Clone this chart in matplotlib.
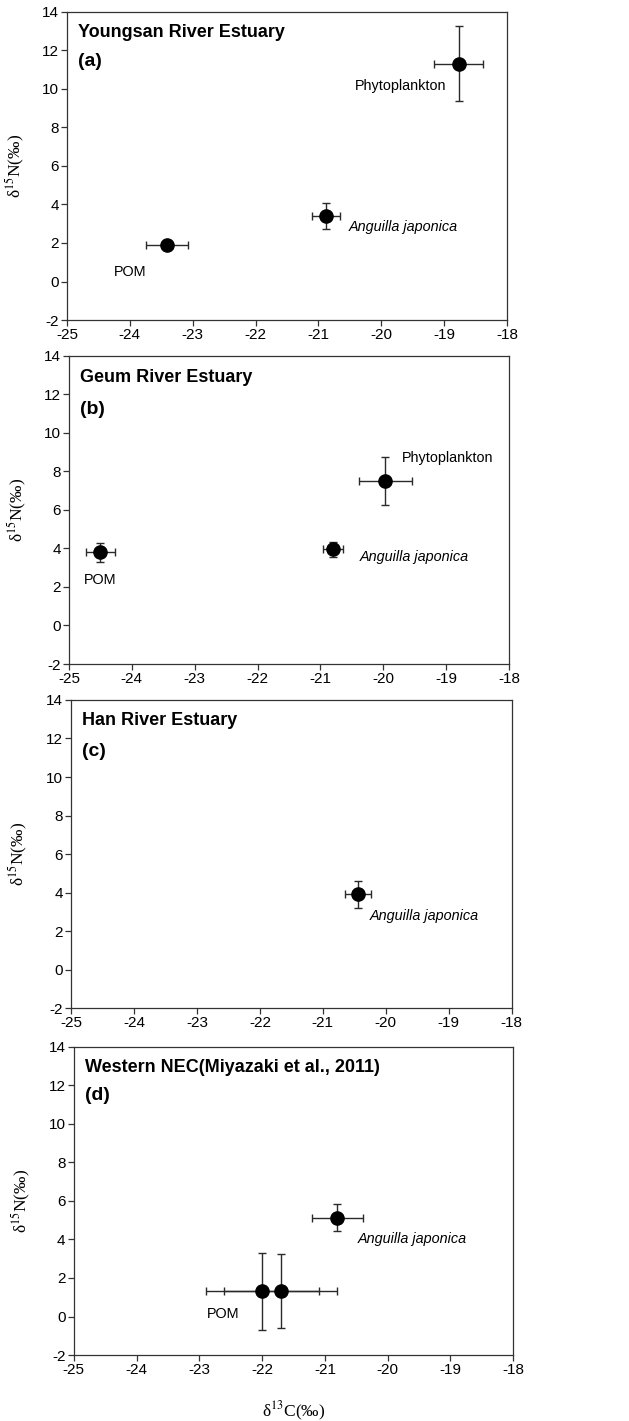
import matplotlib
matplotlib.use("Agg")
import matplotlib.pyplot as plt

plt.rcParams['font.family'] = ['Liberation Sans', 'DejaVu Sans']
plt.rcParams['mathtext.fontset'] = 'stix'
plt.rcParams['axes.unicode_minus'] = False

# panel titles
titles = ['Youngsan River Estuary', 'Geum River Estuary', 'Han River Estuary',
          'Western NEC(Miyazaki et al., 2011)']
letters = ['(a)', '(b)', '(c)', '(d)']

# (a) Youngsan
a_names = ['Phytoplankton', 'Anguilla japonica', 'POM']
a_x = [-18.77, -20.88, -23.41]
a_y = [11.32, 3.40, 1.92]
a_xerr = [0.39, 0.22, 0.33]
a_yerr = [1.93, 0.68, 0.2]

# (b) Geum
b_names = ['POM', 'Anguilla japonica', 'Phytoplankton']
b_x = [-24.50, -20.80, -19.97]
b_y = [3.79, 3.95, 7.50]
b_xerr = [0.23, 0.16, 0.42]
b_yerr = [0.50, 0.40, 1.23]

# (c) Han
c_names = ['Anguilla japonica']
c_x = [-20.44]
c_y = [3.90]
c_xerr = [0.21]
c_yerr = [0.72]

# (d) Western NEC
d_names = ['Anguilla japonica', 'POM', 'POM']
d_x = [-20.80, -22.0, -21.70]
d_y = [5.12, 1.32, 1.32]
d_xerr = [0.40, 0.90, 0.90]
d_yerr = [0.70, 2.0, 1.9]

# label anchors (text, x, y, italic)
a_labels = [('Phytoplankton', -20.42, 10.15, False),
            ('Anguilla japonica', -20.52, 2.85, True),
            ('POM', -24.25, 0.5, False)]
b_labels = [('Phytoplankton', -19.7, 8.67, False),
            ('Anguilla japonica', -20.38, 3.57, True),
            ('POM', -24.76, 2.36, False)]
c_labels = [('Anguilla japonica', -20.25, 2.8, True)]
d_labels = [('Anguilla japonica', -20.48, 4.0, True),
            ('POM', -22.88, 0.12, False)]

xs = [a_x, b_x, c_x, d_x]
ys = [a_y, b_y, c_y, d_y]
xerrs = [a_xerr, b_xerr, c_xerr, d_xerr]
yerrs = [a_yerr, b_yerr, c_yerr, d_yerr]
labels = [a_labels, b_labels, c_labels, d_labels]

rects = [[0.1065, 0.7748, 0.6995, 0.2168],
         [0.1097, 0.5327, 0.6995, 0.2170],
         [0.1129, 0.2906, 0.7006, 0.2168],
         [0.1172, 0.0464, 0.6988, 0.2170]]
title_y = [0.934, 0.93, 0.933, 0.933]
letter_y = [0.839, 0.824, 0.832, 0.843]

fig = plt.figure(figsize=(6.29, 14.21), dpi=100)

for i in range(4):
    ax = fig.add_axes(rects[i])
    ax.errorbar(xs[i], ys[i], xerr=xerrs[i], yerr=yerrs[i], fmt='none',
                ecolor='#2a2a2a', elinewidth=1.0, capsize=3, capthick=1.0, zorder=2)
    ax.plot(xs[i], ys[i], 'o', color='black', markersize=9.5, zorder=3)
    for txt, tx, ty, it in labels[i]:
        ax.text(tx, ty, txt, fontsize=10.4, style='italic' if it else 'normal',
                va='center', ha='left')
    ax.text(0.026, title_y[i], titles[i], transform=ax.transAxes,
            fontsize=13, fontweight='bold', va='center', ha='left')
    ax.text(0.026, letter_y[i], letters[i], transform=ax.transAxes,
            fontsize=14, fontweight='bold', va='center', ha='left',
            family=['Liberation Sans Narrow', 'Liberation Sans'])
    ax.set_xlim(-25, -18)
    ax.set_ylim(-2, 14)
    ax.set_xticks(range(-25, -17))
    ax.set_yticks(range(-2, 15, 2))
    ax.tick_params(direction='out', length=4, width=0.9, labelsize=11,
                   color='#333333', pad=2)
    for s in ax.spines.values():
        s.set_color('#333333')
        s.set_linewidth(0.9)
    ax.set_ylabel('δ$^{15}$N(‰)', fontsize=12.5,
                  family=['Liberation Serif', 'DejaVu Serif'])
    ax.yaxis.set_label_coords(-0.092, 0.5)
    if i == 3:
        ax.set_xlabel('δ$^{13}$C(‰)', fontsize=12.5,
                      family=['Liberation Serif', 'DejaVu Serif'])
        ax.xaxis.set_label_coords(0.5, -0.145)

fig.savefig('out.png', dpi=100)
